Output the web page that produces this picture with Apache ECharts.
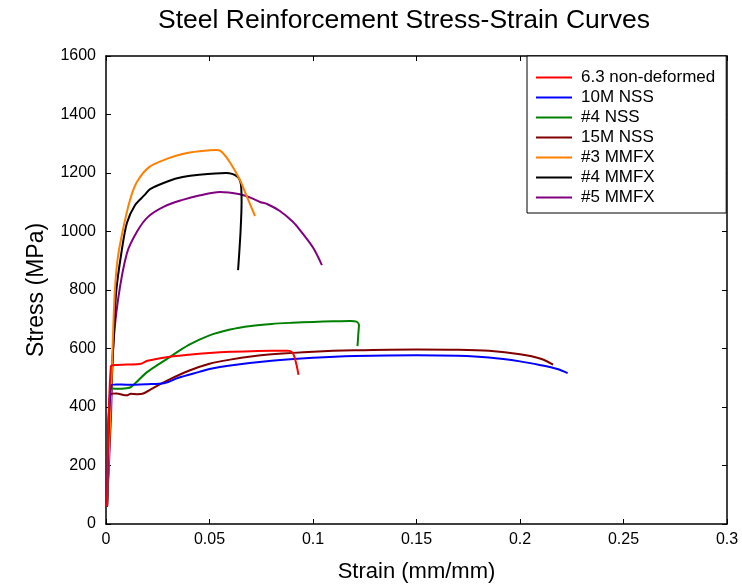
<!DOCTYPE html>
<html><head><meta charset="utf-8">
<script src="https://cdn.jsdelivr.net/npm/echarts@6/dist/echarts.min.js"></script>
<style>html,body{margin:0;padding:0;background:#fff}#c{width:742px;height:588px}</style>
</head><body><div id="c"></div>
<script>
const titleText = "Steel Reinforcement Stress-Strain Curves";
const xName = "Strain (mm/mm)";
const yName = "Stress (MPa)";
const seriesNames = ["6.3 non-deformed","10M NSS","#4 NSS","15M NSS","#3 MMFX","#4 MMFX","#5 MMFX"];
const seriesColors = ["#ff0000","#0000ff","#008000","#800000","#ff7f00","#000000","#800080"];

const red63 = [[0.0005,60],[0.0024,540],[0.005,544],[0.01,545],[0.017,548],[0.02,558],[0.03,571],[0.04,579],[0.05,585],[0.06,589],[0.07,591],[0.08,592],[0.088,592],[0.09,586],[0.091,572],[0.092,545],[0.093,510]];
const blue10M = [[0.0005,60],[0.0024,474],[0.005,477],[0.01,476],[0.02,478],[0.028,481],[0.035,500],[0.045,520],[0.05,530],[0.06,542],[0.08,558],[0.1,568],[0.12,574],[0.15,577],[0.17,575],[0.185,569],[0.2,556],[0.21,543],[0.218,530],[0.223,516]];
const green4 = [[0.0005,60],[0.0023,464],[0.005,462],[0.01,464],[0.012,468],[0.02,520],[0.03,567],[0.04,612],[0.05,645],[0.06,665],[0.07,677],[0.08,684],[0.09,688],[0.1,691],[0.11,693],[0.118,694],[0.121,692],[0.1222,680],[0.1219,650],[0.1215,608]];
const maroon15M = [[0.0005,60],[0.0022,444],[0.005,446],[0.01,440],[0.012,445],[0.015,444],[0.018,446],[0.022,462],[0.03,492],[0.04,524],[0.05,548],[0.06,562],[0.07,573],[0.08,580],[0.1,589],[0.12,594],[0.15,597],[0.17,596],[0.185,592],[0.2,580],[0.21,565],[0.216,545]];
const orange3 = [[0.0005,60],[0.0025,450],[0.004,760],[0.0055,900],[0.008,1000],[0.0116,1108],[0.015,1170],[0.021,1221],[0.03,1250],[0.037,1265],[0.045,1274],[0.0536,1279],[0.056,1272],[0.06,1235],[0.0647,1176],[0.068,1120],[0.072,1053]];
const black4 = [[0.0005,60],[0.0025,450],[0.0038,650],[0.005,800],[0.0075,930],[0.0101,1029],[0.014,1090],[0.0187,1125],[0.0213,1145],[0.03,1172],[0.037,1186],[0.045,1194],[0.058,1200],[0.0633,1188],[0.0652,1160],[0.0655,1100],[0.0650,1000],[0.0644,930],[0.0638,868]];
const purple5 = [[0.0005,60],[0.0024,366],[0.0034,595],[0.0058,766],[0.0101,926],[0.015,1000],[0.0203,1050],[0.028,1085],[0.037,1108],[0.045,1123],[0.055,1135],[0.0647,1127],[0.07,1115],[0.0744,1101],[0.0778,1094],[0.084,1070],[0.09,1035],[0.0937,1005],[0.1,945],[0.1043,885]];
const seriesData = [red63, blue10M, green4, maroon15M, orange3, black4, purple5];

const xTicks = {min:0, max:0.3, interval:0.05};
const yTicks = {min:0, max:1600, interval:200};

const F = "'Liberation Sans', Arial, sans-serif";
const chart = echarts.init(document.getElementById('c'), null, {renderer:'canvas'});
const axisCommon = {
  axisLine:{show:true, onZero:false, lineStyle:{color:'#000', width:1.5}},
  axisTick:{show:true, inside:true, length:5, lineStyle:{color:'#000', width:1}},
  splitLine:{show:false}
};
chart.setOption({
  animation:false,
  backgroundColor:'#fff',
  title:{text:titleText, left:153, top:2, textStyle:{fontFamily:F, fontSize:26.5, fontWeight:'normal', color:'#000'}},
  grid:{left:106, top:56, width:621, height:468, containLabel:false},
  legend:{
    data:seriesNames, orient:'vertical', left:527, top:56,
    backgroundColor:'#fff', borderColor:'#000', borderWidth:1,
    padding:[13,11,7,9], itemWidth:36, itemHeight:2, itemGap:3,
    icon:'rect',
    textStyle:{fontFamily:F, fontSize:17, color:'#000', padding:[0,0,0,4]}
  },
  xAxis:[
    Object.assign({type:'value', position:'bottom', min:xTicks.min, max:xTicks.max, interval:xTicks.interval,
      name:xName, nameLocation:'middle', nameGap:37,
      nameTextStyle:{fontFamily:F, fontSize:22, color:'#000'},
      axisLabel:{fontFamily:F, fontSize:16, color:'#000', margin:8}}, axisCommon),
    Object.assign({type:'value', position:'top', min:xTicks.min, max:xTicks.max, interval:xTicks.interval,
      axisLabel:{show:false}}, axisCommon)
  ],
  yAxis:[
    Object.assign({type:'value', position:'left', min:yTicks.min, max:yTicks.max, interval:yTicks.interval,
      name:yName, nameLocation:'middle', nameGap:58,
      nameTextStyle:{fontFamily:F, fontSize:23, color:'#000'},
      axisLabel:{fontFamily:F, fontSize:16, color:'#000', margin:10, formatter:(v)=>String(v)}}, axisCommon),
    Object.assign({type:'value', position:'right', min:yTicks.min, max:yTicks.max, interval:yTicks.interval,
      axisLabel:{show:false}}, axisCommon)
  ],
  series: seriesNames.map((n,i)=>({
    name:n, type:'line', data:seriesData[i], showSymbol:false, symbol:'none',
    smooth:0.3, lineStyle:{color:seriesColors[i], width:2}, itemStyle:{color:seriesColors[i]},
    xAxisIndex:0, yAxisIndex:0, z: 10 - i
  }))
});
</script></body></html>
